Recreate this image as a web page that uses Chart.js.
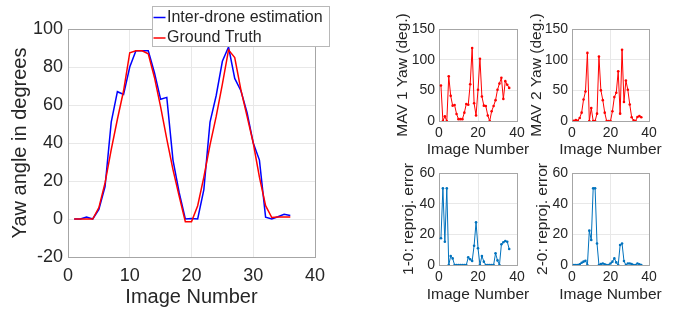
<!DOCTYPE html>
<html><head><meta charset="utf-8">
<script src="https://cdn.jsdelivr.net/npm/chart.js@4.4.1/dist/chart.umd.min.js"></script>
<style>
html,body{margin:0;padding:0;background:#fff;width:676px;height:312px;overflow:hidden;position:relative}
canvas{position:absolute}
</style></head><body>
<canvas id="mainChart"></canvas>
<canvas id="mav1Chart"></canvas>
<canvas id="mav2Chart"></canvas>
<canvas id="rep10Chart"></canvas>
<canvas id="rep20Chart"></canvas>
<script>
// ---------- data ----------
const imageNumbers = [1,2,3,4,5,6,7,8,9,10,11,12,13,14,15,16,17,18,19,20,21,22,23,24,25,26,27,28,29,30,31,32,33,34,35,36];
const interDroneYaw = [0,0,1,0,5,17,51,67,65.5,80,88.5,88.5,88.5,77,63,64,31,14,0,0.3,0,15.5,51,65,83,90.5,74,67.5,56,40,31,1,0,1.2,2.5,1.8];
const groundTruthYaw = [0,0,0,0,6,19,36.5,52.5,67.5,87.5,88.5,88.5,87,74.5,59,42,26,12,-1.4,-1.4,7,22,39,54,71,89,85,68,54,40,22,7,0.8,1,1,1];
const mav1Yaw = [58,0,7.6,0,73,41,25,26,11.4,3,3,3,13.6,27.7,26.6,60,119,29,9,51,101.6,40,25,24.5,9,0,16,24.5,34,51,61,70.6,36,65,59,54];
const mav2Yaw = [0.5,1.6,0.5,5,13.6,35,48,111,0,21,0,0,12,105,50,34,13.6,0,0,0,16,39,46,81,12,116,31,66,51,27,6,1,0,6.5,8,6];
const reprojError10 = [17.4,50,15.2,50,0,5.9,4.3,0,0,0,0,0,0,0,5,3.7,2.6,12.6,27.8,10.9,0,5.9,2.2,0,0,0,0,0,7.6,3,0,13.5,14.8,15.7,15.2,10.4];
const reprojError20 = [0,0,0,0.4,1.5,2.2,2.8,0,22.4,16.3,50,50,14,0,0.6,1,0.4,0,0,1,2.2,4.3,1.7,0,13,14,2.6,0,1,1,0.6,0,0,1,0.4,0];

const mainXTicks = [0,10,20,30,40];
const mainYTicks = [-20,0,20,40,60,80,100];
const smallXTicks = [0,20,40];
const yawYTicks = [0,50,100,150];
const reprojYTicks = [0,20,40,60];

const seriesNames = ['Inter-drone estimation','Ground Truth'];

// ---------- style ----------
const FONT = "'Liberation Sans', Arial, Helvetica, sans-serif";
const TEXT = '#262626';
const BORDER = '#a6a6a6';
const GRID = '#e8e8e8';
const BLUE = '#0000ff', RED = '#ff0000', MBLUE = '#0072BD';

const toPts = arr => imageNumbers.map((x, i) => ({x: x, y: arr[i]}));

// x-axis title drawn centred under the plot area (not squeezed to the plot width)
const xTitlePlugin = {
  id: 'xTitleFree',
  afterDraw(chart, args, opts) {
    const ctx = chart.ctx, ca = chart.chartArea;
    ctx.save();
    ctx.fillStyle = TEXT;
    ctx.font = opts.size + 'px ' + FONT;
    ctx.textAlign = 'center'; ctx.textBaseline = 'middle';
    ctx.fillText(opts.text, (ca.left + ca.right) / 2, opts.y);
    ctx.restore();
  }
};

function makeChart(cfg) {
  const c = document.getElementById(cfg.id);
  c.width = cfg.w; c.height = cfg.h;
  c.style.left = cfg.x + 'px'; c.style.top = cfg.y + 'px';
  c.style.width = cfg.w + 'px'; c.style.height = cfg.h + 'px';
  const a = cfg.area;
  const yW = a.l - cfg.x;
  const padTop = a.t - cfg.y;
  const padRight = cfg.x + cfg.w - a.r;
  const padBottom = cfg.y + cfg.h - a.b - cfg.xH;
  const xT = cfg.xTicks, yT = cfg.yTicks;
  const edge = (lo, hi) => ctx => (ctx.tick && (ctx.tick.value === lo || ctx.tick.value === hi)) ? BORDER : GRID;
  const tLH = cfg.titleSize * 1.2;
  return new Chart(c, {
    type: 'line',
    data: { datasets: cfg.datasets },
    options: {
      responsive: false, animation: false, devicePixelRatio: 1,
      layout: { padding: { left: 0, top: padTop, right: padRight, bottom: padBottom } },
      plugins: {
        legend: { display: false }, tooltip: { enabled: false },
        xTitleFree: { text: cfg.xTitle, size: cfg.titleSize, y: cfg.xTitleCenter - cfg.y }
      },
      elements: { line: { tension: 0 } },
      scales: {
        x: {
          type: 'linear', min: xT[0], max: xT[xT.length - 1],
          afterBuildTicks: s => { s.ticks = xT.map(v => ({value: v})); },
          afterFit: s => { s.height = cfg.xH; s.paddingLeft = 0; s.paddingRight = 0; },
          ticks: { autoSkip: false, maxRotation: 0, padding: cfg.xTickPad, color: TEXT,
                   font: { family: FONT, size: cfg.tickSize }, callback: v => String(v) },
          grid: { color: edge(xT[0], xT[xT.length - 1]), lineWidth: 1, drawTicks: false },
          border: { display: true, color: BORDER, width: 1 },
          title: { display: false }
        },
        y: {
          type: 'linear', min: yT[0], max: yT[yT.length - 1],
          afterBuildTicks: s => { s.ticks = yT.map(v => ({value: v})); },
          afterFit: s => { s.width = yW; s.paddingTop = 0; s.paddingBottom = 0; },
          ticks: { autoSkip: false, padding: cfg.yTickPad, color: TEXT,
                   font: { family: FONT, size: cfg.tickSize }, callback: v => String(v) },
          grid: { color: edge(yT[0], yT[yT.length - 1]), lineWidth: 1, drawTicks: false },
          border: { display: true, color: BORDER, width: 1 },
          title: { display: true, text: cfg.yTitle, color: TEXT, font: { family: FONT, size: cfg.titleSize },
                   padding: { top: cfg.yTitleCenter - cfg.x - tLH / 2, bottom: 0 } }
        }
      }
    },
    plugins: [xTitlePlugin].concat(cfg.plugins || [])
  });
}

// MATLAB-style legend box drawn over the upper-right corner of the main axes
const legendBox = {
  id: 'matlabLegend',
  afterDraw(chart) {
    const ctx = chart.ctx;
    const bx = 152, by = 6, bw = 177, bh = 40;
    ctx.save();
    ctx.fillStyle = '#ffffff';
    ctx.fillRect(bx, by, bw, bh);
    ctx.strokeStyle = '#b8b8b8'; ctx.lineWidth = 1;
    ctx.strokeRect(bx + 0.5, by + 0.5, bw, bh);
    const rows = [17.5, 38];
    const items = chart.data.datasets.slice().sort((p, q) => p.legendIndex - q.legendIndex);
    items.forEach((ds, i) => {
      const yy = rows[i];
      ctx.strokeStyle = ds.borderColor; ctx.lineWidth = 1.5;
      ctx.beginPath(); ctx.moveTo(153.5, yy); ctx.lineTo(165.5, yy); ctx.stroke();
      ctx.fillStyle = TEXT;
      ctx.font = '16px ' + FONT;
      ctx.textBaseline = 'middle'; ctx.textAlign = 'left';
      ctx.fillText(ds.label, 167, yy);
    });
    ctx.restore();
  }
};

// ---------- main chart ----------
makeChart({
  id: 'mainChart', x: 0, y: 0, w: 340, h: 312,
  area: { l: 68, t: 29, r: 315, b: 257 }, xH: 55,
  xTicks: mainXTicks, yTicks: mainYTicks,
  tickSize: 18, titleSize: 20, xTickPad: 8.5, yTickPad: 5,
  xTitle: 'Image Number', yTitle: 'Yaw angle in degrees',
  xTitleCenter: 297, yTitleCenter: 20,
  datasets: [
    { label: seriesNames[0], legendIndex: 0, order: 1, data: toPts(interDroneYaw), borderColor: BLUE, borderWidth: 1.5, pointRadius: 0, fill: false },
    { label: seriesNames[1], legendIndex: 1, order: 0, data: toPts(groundTruthYaw), borderColor: RED, borderWidth: 1.5, pointRadius: 0, fill: false }
  ],
  plugins: [legendBox]
});

const small = (id, x, y, area, yTicks, yTitle, yTitleCenter, xTitleCenter, xTickPad, data, color) => makeChart({
  id, x, y, w: area.r + 14 - x, h: area.b + 44 - y,
  area, xH: 44,
  xTicks: smallXTicks, yTicks,
  tickSize: 14, titleSize: 15.5, xTickPad, yTickPad: 4,
  xTitle: 'Image Number', yTitle, yTitleCenter, xTitleCenter,
  datasets: [
    { label: yTitle, data: toPts(data), borderColor: color, borderWidth: 1, pointRadius: 1.3,
      pointBorderWidth: 0, pointBackgroundColor: color, fill: false }
  ]
});

small('mav1Chart', 388, 14, { l: 439, t: 29, r: 517, b: 121 }, yawYTicks, 'MAV 1 Yaw (deg.)', 403, 149.5, 4, mav1Yaw, RED);
small('mav2Chart', 522, 14, { l: 572, t: 29, r: 649, b: 121 }, yawYTicks, 'MAV 2 Yaw (deg.)', 536.7, 149.5, 4, mav2Yaw, RED);
small('rep10Chart', 394, 160, { l: 439, t: 173, r: 517, b: 265 }, reprojYTicks, '1-0: reproj. error', 408.5, 295, 4.2, reprojError10, MBLUE);
small('rep20Chart', 527, 160, { l: 572, t: 173, r: 649, b: 265 }, reprojYTicks, '2-0: reproj. error', 542.5, 295, 4.2, reprojError20, MBLUE);
</script>
</body></html>
